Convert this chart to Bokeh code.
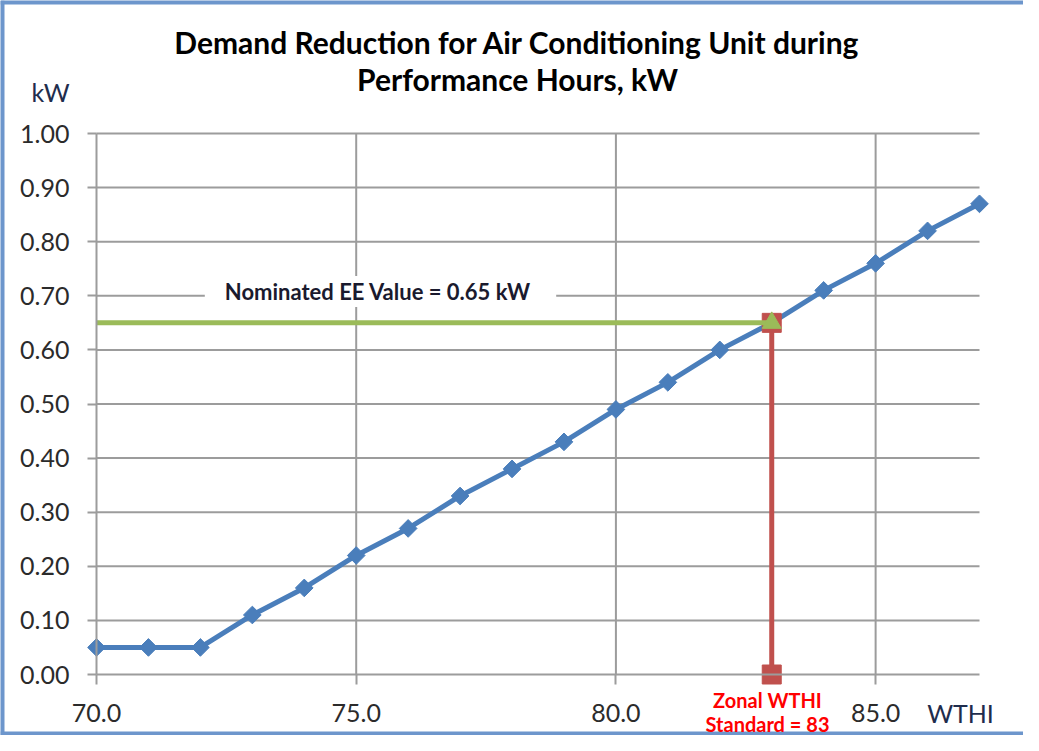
import math
from bokeh.plotting import figure
from bokeh.models import Range1d, FixedTicker, NumeralTickFormatter, Label
from bokeh.embed import file_html
from bokeh.resources import INLINE

# ---------------- data ----------------
wthi = [70, 71, 72, 73, 74, 75, 76, 77, 78, 79, 80, 81, 82, 83, 84, 85, 86, 87]
demand_kw = [0.05, 0.05, 0.05, 0.11, 0.16, 0.22, 0.27, 0.33, 0.38, 0.43,
             0.49, 0.54, 0.60, 0.65, 0.71, 0.76, 0.82, 0.87]
nominated_x = [70, 83]
nominated_y = [0.65, 0.65]
zonal_x = [83, 83]
zonal_y = [0.0, 0.65]
x_ticks = [70, 75, 80, 85]
y_ticks = [0.0, 0.1, 0.2, 0.3, 0.4, 0.5, 0.6, 0.7, 0.8, 0.9, 1.0]
x_grid = [75, 80, 85]
y_grid = [0.1, 0.2, 0.3, 0.4, 0.5, 0.6, 0.7, 0.8, 0.9, 1.0]
x_min, x_max = 70, 87
y_min, y_max = 0.0, 1.0
title_lines = ["Demand Reduction for Air Conditioning Unit during",
               "Performance Hours, kW"]
nominated_text = "Nominated  EE Value = 0.65 kW"
zonal_lines = ["Zonal WTHI", "Standard = 83"]

# ---------------- styling ----------------
BLUE = "#4a7ebb"
GREEN = "#9bbb59"
RED = "#c0504d"
GRID = "#9c9c9c"
BORDER = "#6d96cc"
FONT = "Lato"

W, H = 1023, 735          # canvas size
OX, OY = 8, 4             # reference-pixel position of the canvas origin
PX_X = 883.0 / 17.0       # pixels per WTHI unit
PX_Y = 541.0              # pixels per kW unit
AX_X, AX_Y = 104.0, 678.0 # reference-pixel position of (70, 0)

def dx(ix):
    return x_min + (ix - AX_X) / PX_X

def dy(iy):
    return (AX_Y - iy) / PX_Y

X0, X1 = dx(OX), dx(OX + W)
Y0, Y1 = dy(OY + H), dy(OY)

p = figure(width=W, height=H,
           x_range=Range1d(X0, X1), y_range=Range1d(Y0, Y1),
           output_backend="svg", toolbar_location=None,
           min_border=0, min_border_left=0, min_border_right=0,
           min_border_top=0, min_border_bottom=0)
p.outline_line_color = None
p.xgrid.visible = False
p.ygrid.visible = False
p.background_fill_color = "white"
p.border_fill_color = "white"

# chart border (left, top, bottom)
p.segment(x0=[X0, X0, X0], y0=[Y0, Y1, Y0], x1=[X0, X1, X1], y1=[Y1, Y1, Y0],
          line_color=BORDER, line_width=8)

# gridlines
p.segment(x0=x_grid, y0=[y_min] * len(x_grid), x1=x_grid, y1=[y_max] * len(x_grid),
          line_color=GRID, line_width=2)
p.segment(x0=[x_min] * len(y_grid), y0=y_grid, x1=[x_max] * len(y_grid), y1=y_grid,
          line_color=GRID, line_width=2)

# axes, pinned at the data origin
xa = p.xaxis[0]
xa.fixed_location = y_min
xa.bounds = (x_min, x_max)
xa.ticker = FixedTicker(ticks=x_ticks)
xa.formatter = NumeralTickFormatter(format="0.0")
ya = p.yaxis[0]
ya.fixed_location = x_min
ya.bounds = (y_min, y_max)
ya.ticker = FixedTicker(ticks=y_ticks)
ya.formatter = NumeralTickFormatter(format="0.00")
for ax in (xa, ya):
    ax.axis_line_color = GRID
    ax.axis_line_width = 2
    ax.major_tick_line_color = GRID
    ax.major_tick_line_width = 2
    ax.major_tick_in = 0
    ax.minor_tick_line_color = None
    ax.major_label_text_font = FONT
    ax.major_label_text_font_size = "25px"
    ax.major_label_text_color = "#2b2b2b"
xa.major_tick_out = 10
xa.major_label_standoff = 19
ya.major_tick_out = 9
ya.major_label_standoff = 18

# series
p.line(wthi, demand_kw, line_color=BLUE, line_width=5)
p.scatter(wthi, demand_kw, marker="square", angle=math.pi / 4, size=12.5,
          fill_color=BLUE, line_color=BLUE)

p.line(zonal_x, zonal_y, line_color=RED, line_width=5)
p.scatter(zonal_x, zonal_y, marker="square", size=19, fill_color=RED, line_color=RED)

p.line(nominated_x, nominated_y, line_color=GREEN, line_width=5)
p.scatter(nominated_x[-1:], nominated_y[-1:], marker="triangle", size=19,
          fill_color=GREEN, line_color=GREEN)

# texts
for t, iy in zip(title_lines, [45, 82]):
    p.add_layout(Label(x=dx(525), y=dy(iy), text=t, text_align="center",
                       text_baseline="middle", text_font=FONT, text_font_style="bold",
                       text_font_size="30px", text_color="#000000"))

p.add_layout(Label(x=dx(58), y=dy(95), text="kW", text_align="center",
                   text_baseline="middle", text_font=FONT, text_font_size="25px",
                   text_color="#1f2d4d"))
p.add_layout(Label(x=dx(968), y=dy(716), text="WTHI", text_align="center",
                   text_baseline="middle", text_font=FONT, text_font_size="25px",
                   text_color="#1f2d4d"))

p.add_layout(Label(x=dx(388), y=dy(295), text=nominated_text, text_align="center",
                   text_baseline="middle", text_font=FONT, text_font_style="bold",
                   text_font_size="22px", text_color="#1a1a2e",
                   background_fill_color="white", padding=(20, 20, 2, 2)))

for t, iy in zip(zonal_lines, [703, 727]):
    p.add_layout(Label(x=dx(775), y=dy(iy), text=t, text_align="center",
                       text_baseline="middle", text_font=FONT, text_font_style="bold",
                       text_font_size="20px", text_color="#ff0000"))

open("out.html", "w").write(file_html(p, INLINE))
